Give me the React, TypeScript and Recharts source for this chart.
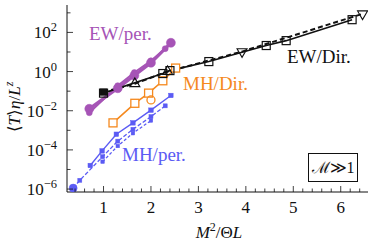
import React from 'react';
import { LineChart, Line, XAxis, YAxis } from 'recharts';

const FONT = '"Liberation Serif", "Times New Roman", serif';
const PURPLE = '#a654b6';
const ORANGE = '#f5891e';
const BLUE = '#5b5bf4';
const BLACK = '#111111';

// x = M^2 / (Theta L), y = <T> eta / L^z
const ewPerCircX = [0.7, 1.3, 1.65, 2.0, 2.42];
const ewPerCircY = [0.0126, 0.141, 0.631, 2.82, 29.5];
const ewPerTriX = [0.7, 1.3, 1.65, 2.0, 2.3];
const ewPerTriY = [0.0079, 0.191, 0.891, 3.55, 14.8];

const ewDirSqX = [1.0, 2.25, 2.4, 3.22, 4.43, 4.85, 6.24];
const ewDirSqY = [0.0794, 0.794, 1.12, 3.24, 21.4, 38.0, 447];
const ewDirTriX = [1.0, 1.66, 2.35, 3.92, 6.46];
const ewDirTriY = [0.089, 0.24, 1.0, 10.5, 890];

const mhDirSqX = [1.2, 1.66, 1.95, 2.25, 2.52];
const mhDirSqY = [0.0024, 0.024, 0.0794, 0.339, 1.51];
const mhDirCircX = [2.0];
const mhDirCircY = [0.0355];

const mhPerSolidX = [0.72, 0.97, 1.27, 1.62, 2.0, 2.42];
const mhPerSolidY = [0.000016, 0.000089, 0.00063, 0.0024, 0.0107, 0.0603];
const mhPerDash1X = [0.36, 0.5, 0.98, 1.3, 1.62, 2.0, 2.3];
const mhPerDash1Y = [0.00000112, 0.0000028, 0.000045, 0.00028, 0.00112, 0.005, 0.0178];
const mhPerDash2X = [0.98, 1.3, 1.62, 2.0];
const mhPerDash2Y = [0.000025, 0.000158, 0.00071, 0.00316];

const xTicks = [0.4, 0.6, 0.8, 1, 1.2, 1.4, 1.6, 1.8, 2, 2.2, 2.4, 2.6, 2.8, 3, 3.2, 3.4, 3.6, 3.8, 4, 4.2, 4.4, 4.6, 4.8, 5, 5.2, 5.4, 5.6, 5.8, 6, 6.2, 6.4];
const yTicks = [1e-6, 1e-5, 1e-4, 1e-3, 1e-2, 1e-1, 1, 10, 100, 1000];
const xDomain = [0.23, 6.575];
const yDomain = [7.08e-7, 2512];

const zip = (xs: number[], ys: number[]) => xs.map((x, i) => ({ x, y: ys[i] }));

const isMajorX = (v: number) => Math.abs(v - Math.round(v)) < 1e-6;
const isMajorY = (v: number) => Math.round(Math.log10(v)) % 2 === 0;

const BottomTick = (p: any) => {
  const v = p.payload.value;
  const major = isMajorX(v);
  return (
    <g>
      <line x1={p.x} x2={p.x} y1={p.y} y2={p.y - (major ? 6 : 3.5)} stroke={BLACK} strokeWidth={0.8} />
      {major && (
        <text x={p.x} y={p.y + 21} textAnchor="middle" fontFamily={FONT} fontSize={17} fill="#111">
          {v}
        </text>
      )}
    </g>
  );
};
const TopTick = (p: any) => {
  const major = isMajorX(p.payload.value);
  return <line x1={p.x} x2={p.x} y1={p.y} y2={p.y + (major ? 6 : 3.5)} stroke={BLACK} strokeWidth={0.8} />;
};
const LeftTick = (p: any) => {
  const v = p.payload.value;
  const e = Math.round(Math.log10(v));
  const major = isMajorY(v);
  return (
    <g>
      <line x1={p.x} x2={p.x + (major ? 6 : 3.5)} y1={p.y} y2={p.y} stroke={BLACK} strokeWidth={0.8} />
      {major && (
        <text x={p.x - 10} y={p.y + 6} textAnchor="end" fontFamily={FONT} fontSize={17} fill="#111">
          10
          <tspan dy={-7} fontSize={12.5}>{e < 0 ? '\u2212' + Math.abs(e) : String(e)}</tspan>
        </text>
      )}
    </g>
  );
};
const RightTick = (p: any) => {
  const major = isMajorY(p.payload.value);
  return <line x1={p.x} x2={p.x - (major ? 6 : 3.5)} y1={p.y} y2={p.y} stroke={BLACK} strokeWidth={0.8} />;
};

const circle = (r: number, color: string, fill: string, sw = 1.2) => (p: any) => (
  <circle key={`c${p.index}`} cx={p.cx} cy={p.cy} r={r} fill={fill} stroke={color} strokeWidth={sw} />
);
const square = (s: number, color: string, fill: string, sw = 1.2) => (p: any) => (
  <rect key={`s${p.index}`} x={p.cx - s / 2} y={p.cy - s / 2} width={s} height={s} fill={fill} stroke={color} strokeWidth={sw} />
);
const triangle = (s: number, color: string, fill: string, sw = 1.1) => (p: any) => {
  const h = s * 0.87;
  const down = p.payload.x > 3;
  const pts = down
    ? `${p.cx - s / 2},${p.cy - h / 3} ${p.cx + s / 2},${p.cy - h / 3} ${p.cx},${p.cy + (2 * h) / 3}`
    : `${p.cx - s / 2},${p.cy + h / 3} ${p.cx + s / 2},${p.cy + h / 3} ${p.cx},${p.cy - (2 * h) / 3}`;
  if (p.index === 0) {
    return <rect key={`t${p.index}`} x={p.cx - 3} y={p.cy - 3} width={6} height={6} fill={BLACK} stroke={BLACK} />;
  }
  return <polygon key={`t${p.index}`} points={pts} fill={fill} stroke={color} strokeWidth={sw} />;
};

export default function App() {
  const common = { xAxisId: 'b', yAxisId: 'l', dataKey: 'y', isAnimationActive: false, type: 'linear' as const };
  return (
    <div style={{ position: 'absolute', left: 0, top: 0, width: 374, height: 250, background: '#fff' }}>
      <LineChart width={374} height={250} margin={{ top: 5, right: 6, bottom: 0, left: 0 }}>
        <XAxis xAxisId="b" type="number" dataKey="x" domain={xDomain} allowDataOverflow ticks={xTicks} interval={0}
          tick={BottomTick} tickLine={false} tickSize={0} tickMargin={0} height={58} axisLine={{ stroke: BLACK, strokeWidth: 1 }} />
        <XAxis xAxisId="t" orientation="top" type="number" dataKey="x" domain={xDomain} allowDataOverflow ticks={xTicks} interval={0}
          tick={TopTick} tickLine={false} tickSize={0} tickMargin={0} height={0} axisLine={{ stroke: BLACK, strokeWidth: 1 }} />
        <YAxis yAxisId="l" type="number" scale="log" domain={yDomain} allowDataOverflow ticks={yTicks} interval={0}
          tick={LeftTick} tickLine={false} tickSize={0} tickMargin={0} width={67} axisLine={{ stroke: BLACK, strokeWidth: 1 }} />
        <YAxis yAxisId="r" orientation="right" type="number" scale="log" domain={yDomain} allowDataOverflow ticks={yTicks} interval={0}
          tick={RightTick} tickLine={false} tickSize={0} tickMargin={0} width={0} axisLine={{ stroke: BLACK, strokeWidth: 1 }} />

        <Line {...common} data={zip(mhPerDash2X, mhPerDash2Y)} stroke={BLUE} strokeWidth={1.3} strokeDasharray="3 2" dot={square(3.5, BLUE, BLUE, 0.5)} />
        <Line {...common} data={zip(mhPerDash1X, mhPerDash1Y)} stroke={BLUE} strokeWidth={1.3} strokeDasharray="4 2" dot={square(4, BLUE, BLUE, 0.5)} />
        <Line {...common} data={zip(mhPerSolidX, mhPerSolidY)} stroke={BLUE} strokeWidth={1.4} dot={square(4.5, BLUE, BLUE, 0.5)} />
        <Line {...common} data={zip([0.36], [0.00000112])} stroke={BLUE} dot={circle(4, BLUE, BLUE, 0.5)} />

        <Line {...common} data={zip(mhDirSqX, mhDirSqY)} stroke={ORANGE} strokeWidth={1.6} dot={square(8, ORANGE, '#fff', 1.3)} />
        <Line {...common} data={zip(mhDirCircX, mhDirCircY)} stroke={ORANGE} dot={circle(4, ORANGE, 'none', 1.3)} />

        <Line {...common} data={zip(ewPerTriX, ewPerTriY)} stroke={PURPLE} strokeWidth={2} dot={circle(3, PURPLE, PURPLE, 0.5)} />
        <Line {...common} data={zip(ewPerCircX, ewPerCircY)} stroke={PURPLE} strokeWidth={3.2} dot={circle(4.5, PURPLE, PURPLE, 0.5)} />

        <Line {...common} data={zip(ewDirTriX, ewDirTriY)} stroke={BLACK} strokeWidth={2} strokeDasharray="5 3" dot={triangle(10, BLACK, 'none')} />
        <Line {...common} data={zip(ewDirSqX, ewDirSqY)} stroke={BLACK} strokeWidth={1.6} dot={square(8, BLACK, 'none', 1.2)} />
      </LineChart>
      <svg width={374} height={250} style={{ position: 'absolute', left: 0, top: 0, pointerEvents: 'none' }}>
        <g fontFamily={FONT} fontSize={19}>
          <text x={89} y={40} fill={PURPLE}>EW/per.</text>
          <text x={287} y={63} fill="#111">EW/Dir.</text>
          <text x={183} y={90} fill={ORANGE}>MH/Dir.</text>
          <text x={122} y={161} fill={BLUE}>MH/per.</text>
        </g>
        <rect x={308.5} y={153.5} width={49} height={28} fill="#fff" stroke="#111" strokeWidth={1} />
        <text x={333} y={173} textAnchor="middle" fontFamily={FONT} fontSize={16} fill="#111">
          ℳ≫1
        </text>
        <text x={219} y={238} textAnchor="middle" fontFamily={FONT} fontSize={17} fill="#111">
          <tspan fontStyle="italic">M</tspan>
          <tspan dy={-7} fontSize={12}>2</tspan>
          <tspan dy={7}>/Θ</tspan>
          <tspan fontStyle="italic">L</tspan>
        </text>
        <text transform="translate(20,107) rotate(-90)" textAnchor="middle" fontFamily={FONT} fontSize={17} fill="#111">
          ⟨<tspan fontStyle="italic">T</tspan>⟩<tspan fontStyle="italic">η</tspan>/<tspan fontStyle="italic">L</tspan>
          <tspan dy={-7} fontSize={12} fontStyle="italic">z</tspan>
        </text>
      </svg>
    </div>
  );
}
